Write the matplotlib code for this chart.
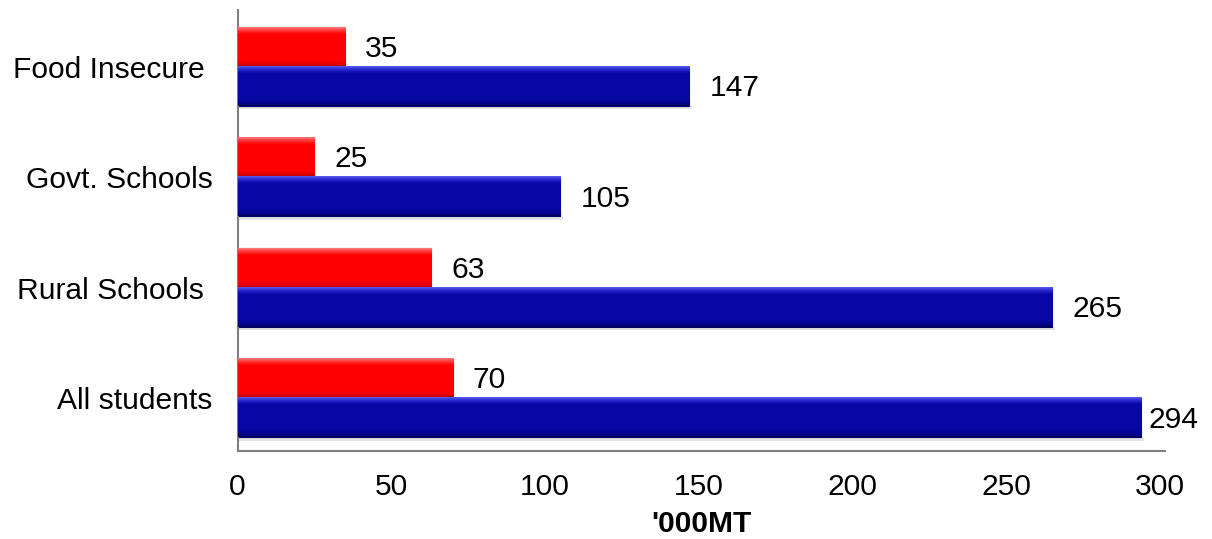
import numpy as np
import matplotlib
matplotlib.use("Agg")
import matplotlib.pyplot as plt
from matplotlib.colors import LinearSegmentedColormap

plt.rcParams['font.family'] = ['Liberation Sans', 'DejaVu Sans']

# bottom to top
categories = ["All students", "Rural Schools ", "Govt. Schools", "Food Insecure "]
red_values = [70, 63, 25, 35]
blue_values = [294, 265, 105, 147]

fig = plt.figure(figsize=(12.12, 5.39), dpi=100)
ax = fig.add_axes([0.196, 0.163, 0.765, 0.818])

y = np.arange(len(categories))
h = 0.355

red_bars = ax.barh(y + h / 2, red_values, height=h, color="#ff0000", edgecolor="#c80000", linewidth=0.8, zorder=2)
blue_bars = ax.barh(y - h / 2, blue_values, height=h, color="#0606a0", edgecolor="#00006a", linewidth=0.8, zorder=2)

# glossy shading on each bar: light rim at the top, thin dark edge at the bottom
red_stops = [(0.0, "#b00000"), (0.08, "#e80000"), (0.18, "#ff0000"), (0.82, "#ff0000"), (0.92, "#ff3a3a"), (1.0, "#ff7a7a")]
blue_stops = [(0.0, "#00005a"), (0.08, "#030390"), (0.18, "#0707a2"), (0.82, "#0707a6"), (0.92, "#2a2ad0"), (1.0, "#5a5aee")]
red_cmap = LinearSegmentedColormap.from_list("r", red_stops)
blue_cmap = LinearSegmentedColormap.from_list("b", blue_stops)
grad = np.tile(np.linspace(0, 1, 300).reshape(-1, 1), (1, 2))
for bars, cmap in ((red_bars, red_cmap), (blue_bars, blue_cmap)):
    for b in bars:
        x0, y0 = b.get_x(), b.get_y()
        w, hh = b.get_width(), b.get_height()
        ax.imshow(grad, cmap=cmap, origin="lower", aspect="auto",
                  extent=(x0, x0 + w, y0, y0 + hh), zorder=3, interpolation="nearest")
        # soft shadow under the bar
        ax.fill_between([x0 + 0.5, x0 + w + 0.8], y0 - 0.03, y0, color="#c8c8c8", alpha=0.5, zorder=1, linewidth=0)

for bars, vals in ((red_bars, red_values), (blue_bars, blue_values)):
    for b, v in zip(bars, vals):
        pad = 7 if v > 290 else 20
        ax.annotate(str(v), (b.get_width(), b.get_y() + b.get_height() / 2),
                    xytext=(pad, -2), textcoords="offset pixels",
                    va="center", ha="left", fontsize=21.6, color="black", zorder=4)

ax.set_xlim(0, 301.6)
ax.set_ylim(-0.48, 3.51)
ax.set_xticks([0, 50, 100, 150, 200, 250, 300])
ax.set_yticks(y)
ax.set_yticklabels(categories)
ax.tick_params(axis="both", length=0, labelsize=21.6, colors="black")
ax.tick_params(axis="y", pad=18)
ax.tick_params(axis="x", pad=16)
ax.set_xlabel("'000MT", fontsize=21.6, fontweight="bold", labelpad=6)

for side in ("top", "right"):
    ax.spines[side].set_visible(False)
for side in ("left", "bottom"):
    ax.spines[side].set_color("#808080")
    ax.spines[side].set_linewidth(1.5)

fig.savefig("out.png", dpi=100)
